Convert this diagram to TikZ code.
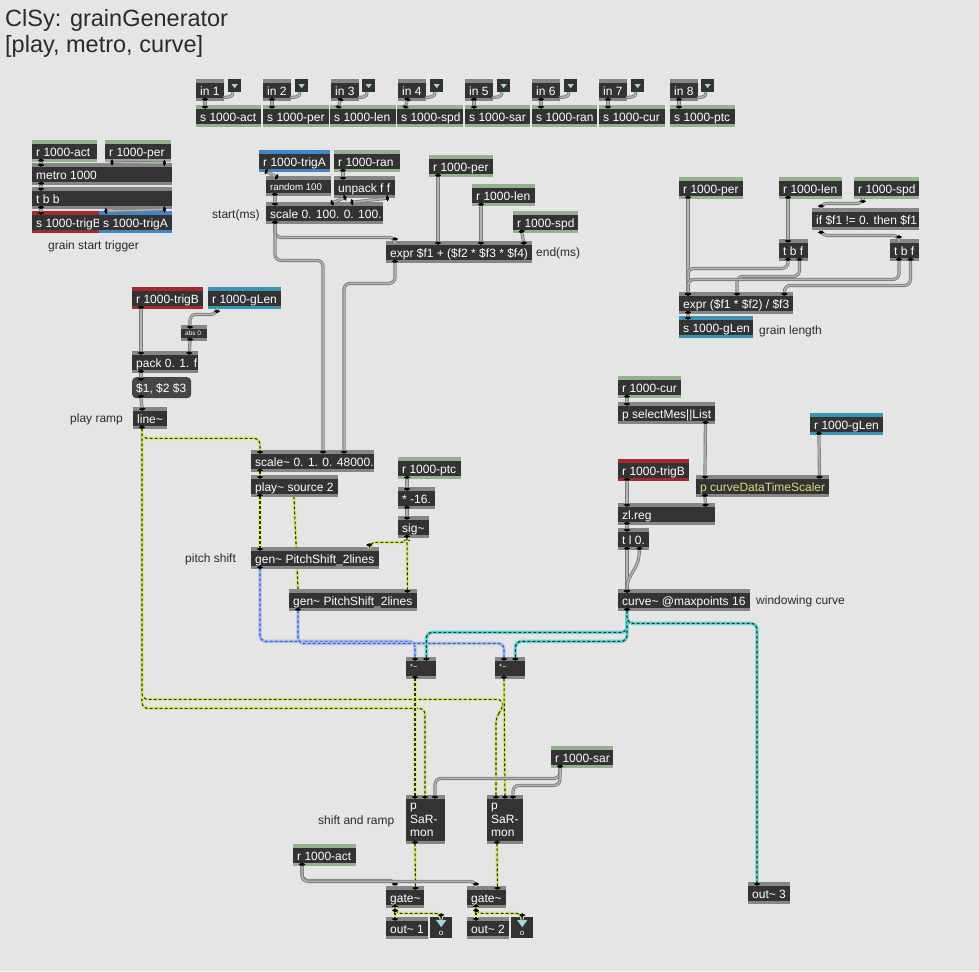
\documentclass[tikz,border=0pt]{standalone}
\usepackage{fontspec}
\setmainfont{Liberation Sans}
\usetikzlibrary{arrows.meta}
\definecolor{bgcol}{HTML}{E5E5E5}
\definecolor{bar}{HTML}{868686}
\definecolor{boxbg}{HTML}{333333}
\definecolor{sndgreen}{HTML}{93B18D}
\definecolor{trigred}{HTML}{A9282E}
\definecolor{trigblue}{HTML}{3F87C9}
\definecolor{glenblue}{HTML}{3A95B5}
\definecolor{msgbg}{HTML}{464646}
\definecolor{cmtcol}{HTML}{2A2A2A}
\definecolor{cordout}{HTML}{7A7A7A}
\definecolor{cordin}{HTML}{B3B3B3}
\definecolor{sigyel}{HTML}{D5EE80}
\definecolor{sigdash}{HTML}{2E2E2E}
\definecolor{sigcyan}{HTML}{62D6D6}
\definecolor{mclight}{HTML}{AFBDEA}
\definecolor{mcdash}{HTML}{2F5FDD}
\definecolor{tri}{HTML}{A3D4E4}
\definecolor{scalertext}{HTML}{DADA7C}
\pgfdeclarelayer{back}
\pgfsetlayers{back,main}
\newcommand{\maxfont}{\fontsize{12}{13.5}\selectfont}
\newcommand{\bx}[2]{\makebox[\dimexpr#1pt-8pt\relax][l]{#2}}
\newcommand{\sg}{\textasciitilde}

\begin{document}
\begin{tikzpicture}[x=1pt,y=-1pt,
    port/.tip={Circle[length=3pt,width=4.5pt,black]},
    obj/.style={anchor=north west,inner xsep=4pt,inner ysep=0pt,minimum height=22pt,
      fill=#1,text=white,font=\maxfont,text height=10.6pt,text depth=0pt,
      path picture={\fill[boxbg] ([yshift=-3.5pt]path picture bounding box.north west)
        rectangle ([yshift=3.5pt]path picture bounding box.south east);}},
    obj/.default=bar,
    msgbox/.style={anchor=north west,inner xsep=4pt,inner ysep=0pt,minimum height=21pt,
      fill=msgbg,rounded corners=4pt,text=white,font=\maxfont,text height=9.6pt,text depth=0pt},
    drop/.style={anchor=north west,fill=boxbg,minimum width=13pt,minimum height=13pt,inner sep=0pt,
      path picture={\fill[tri] ([xshift=-3pt,yshift=-5pt]path picture bounding box.north)
        -- ([xshift=3pt,yshift=-5pt]path picture bounding box.north)
        -- ([yshift=-9pt]path picture bounding box.north) -- cycle;}},
    ind/.style={anchor=north west,fill=boxbg,minimum width=22pt,minimum height=21pt,inner sep=0pt,
      text=white,font=\fontsize{8}{8}\selectfont,text height=15pt,text depth=0pt,
      path picture={\fill[tri] ([xshift=-5pt,yshift=-3pt]path picture bounding box.north)
        -- ([xshift=5pt,yshift=-3pt]path picture bounding box.north)
        -- ([yshift=-10pt]path picture bounding box.north) -- cycle;}},
    cmt/.style={inner sep=0pt,text=cmtcol,font=\maxfont},
    link/.style={draw=cordin,line width=1.5pt,rounded corners=6pt,
      preaction={draw=cordout,line width=3.2pt}},
    cord/.style={link,port-port,shorten <=-3.5pt,shorten >=-3.5pt},
    sig/.style={port-port,shorten <=-3.5pt,shorten >=-3.5pt,draw=sigdash,line width=1.1pt,
      dash pattern=on 3pt off 2pt,rounded corners=6pt,
      preaction={draw=#1,solid,line width=3.4pt}},
    sig/.default=sigyel]

\begin{pgfonlayer}{back}
\fill[bgcol] (0,0) rectangle (979,971);
\end{pgfonlayer}
\useasboundingbox (0,0) rectangle (979,971);

\node[cmt,anchor=base west,font=\fontsize{23.5}{26}\selectfont] (title) at (5,27) {ClSy: grainGenerator};
\node[cmt,anchor=base west,font=\fontsize{23.5}{26}\selectfont] (subtitle) at (5,53) {[play, metro, curve]};

% inlets
\node[obj] (in1) at (196,79) {\bx{28}{in 1}};
\node[drop] (dd1) at (228,79) {};
\node[obj] (in2) at (263,79) {\bx{28}{in 2}};
\node[drop] (dd2) at (295,79) {};
\node[obj] (in3) at (331,79) {\bx{28}{in 3}};
\node[drop] (dd3) at (362,79) {};
\node[obj] (in4) at (398,79) {\bx{28}{in 4}};
\node[drop] (dd4) at (430,79) {};
\node[obj] (in5) at (465,79) {\bx{28}{in 5}};
\node[drop] (dd5) at (497,79) {};
\node[obj] (in6) at (532,79) {\bx{28}{in 6}};
\node[drop] (dd6) at (564,79) {};
\node[obj] (in7) at (599,79) {\bx{28}{in 7}};
\node[drop] (dd7) at (631,79) {};
\node[obj] (in8) at (670,79) {\bx{28}{in 8}};
\node[drop] (dd8) at (701,79) {};
\node[obj=sndgreen] (sAct) at (196,105) {\bx{65}{s 1000-act}};
\node[obj=sndgreen] (sPer) at (263,105) {\bx{66}{s 1000-per}};
\node[obj=sndgreen] (sLen) at (330,105) {\bx{66}{s 1000-len}};
\node[obj=sndgreen] (sSpd) at (397,105) {\bx{66}{s 1000-spd}};
\node[obj=sndgreen] (sSar) at (465,105) {\bx{65}{s 1000-sar}};
\node[obj=sndgreen] (sRan) at (532,105) {\bx{65}{s 1000-ran}};
\node[obj=sndgreen] (sCur) at (599,105) {\bx{66}{s 1000-cur}};
\node[obj=sndgreen] (sPtc) at (670,105) {\bx{65}{s 1000-ptc}};

% grain start trigger
\node[obj=sndgreen] (rAct) at (32,140) {\bx{65}{r 1000-act}};
\node[obj=sndgreen] (rPer) at (105,140) {\bx{66}{r 1000-per}};
\node[obj] (metro) at (32,163) {\bx{140}{metro 1000}};
\node[obj] (tbb) at (32,187) {\bx{140}{t b b}};
\node[obj=trigred] (sTrigB) at (32,211) {\bx{67}{s 1000-trigB}};
\node[obj=trigblue] (sTrigA) at (99,211) {\bx{73}{s 1000-trigA}};
\node[cmt,anchor=base west] (cTrig) at (48,249) {grain start trigger};

% start and end
\node[obj=trigblue] (rTrigA) at (259,150) {\bx{71}{r 1000-trigA}};
\node[obj=sndgreen] (rRan) at (334,150) {\bx{66}{r 1000-ran}};
\node[obj,minimum height=20pt,font=\fontsize{9.7}{11}\selectfont,text height=8pt] (random) at (266,176) {\bx{65}{random 100}};
\node[obj] (unpack) at (334,176) {\bx{61}{unpack f f}};
\node[obj] (scaleA) at (266,202) {\bx{117}{scale 0. 100. 0. 100.}};
\node[cmt,anchor=base west] (cStart) at (212,218) {start(ms)};
\node[obj=sndgreen] (rPerB) at (429,155) {\bx{64}{r 1000-per}};
\node[obj=sndgreen] (rLenB) at (472,184) {\bx{63}{r 1000-len}};
\node[obj=sndgreen] (rSpdB) at (513,211) {\bx{65}{r 1000-spd}};
\node[obj] (exprA) at (386,241) {\bx{146}{expr \$f1 + (\$f2 * \$f3 * \$f4)}};
\node[cmt,anchor=base west] (cEnd) at (536,256) {end(ms)};

% grain length
\node[obj=sndgreen] (rPerC) at (679,177) {\bx{64}{r 1000-per}};
\node[obj=sndgreen] (rLenC) at (779,177) {\bx{63}{r 1000-len}};
\node[obj=sndgreen] (rSpdC) at (854,177) {\bx{65}{r 1000-spd}};
\node[obj] (iff) at (812,208) {\bx{107}{if \$f1 != 0. then \$f1}};
\node[obj] (tbfA) at (779,239) {\bx{29}{t b f}};
\node[obj] (tbfB) at (890,239) {\bx{29}{t b f}};
\node[obj] (exprB) at (679,292) {\bx{114}{expr (\$f1 * \$f2) / \$f3}};
\node[obj=glenblue] (sGLen) at (679,316) {\bx{74}{s 1000-gLen}};
\node[cmt,anchor=base west] (cGLen) at (759,334) {grain length};

% play ramp
\node[obj=trigred] (rTrigB) at (132,287) {\bx{71}{r 1000-trigB}};
\node[obj=glenblue] (rGLen) at (208,287) {\bx{73}{r 1000-gLen}};
\node[obj,minimum height=16pt,font=\fontsize{6.5}{7}\selectfont,text height=4pt] (abs) at (181,325) {\bx{26}{abs 0.}};
\node[obj] (pack) at (132,351) {\bx{66}{pack 0. 1. f}};
\node[msgbox] (msg) at (132,377) {\bx{59}{\$1, \$2 \$3}};
\node[obj] (line) at (133,407) {\bx{34}{line\sg}};
\node[cmt,anchor=base west] (cRamp) at (70,422) {play ramp};

% player and pitch shift
\node[obj] (scaleB) at (251,450) {\bx{123}{scale\sg{} 0. 1. 0. 48000.}};
\node[obj] (play) at (251,475) {\bx{87}{play\sg{} source 2}};
\node[obj=sndgreen] (rPtc) at (398,457) {\bx{63}{r 1000-ptc}};
\node[obj] (mul) at (398,487) {\bx{37}{* -16.}};
\node[obj] (sig) at (398,516) {\bx{31}{sig\sg}};
\node[obj] (genB) at (289,589) {\bx{128}{gen\sg{} PitchShift\_2lines}};
\begin{pgfonlayer}{back}
\draw[sig] ([xshift=43]play.south west) -- ([xshift=9]genB.north west);
\end{pgfonlayer}
\node[obj] (genA) at (251,547) {\bx{128}{gen\sg{} PitchShift\_2lines}};
\node[cmt,anchor=base west] (cPitch) at (185,562) {pitch shift};
\node[obj,font=\fontsize{7.5}{8}\selectfont,text height=2pt] (mulA) at (406,657) {\bx{30}{*\sg}};
\node[obj,font=\fontsize{7.5}{8}\selectfont,text height=2pt] (mulB) at (495,657) {\bx{30}{*\sg}};

% windowing curve
\node[obj=sndgreen] (rCur) at (618,376) {\bx{63}{r 1000-cur}};
\node[obj] (selMes) at (618,402) {\bx{97}{p selectMes||List}};
\node[obj=glenblue] (rGLenB) at (810,413) {\bx{73}{r 1000-gLen}};
\node[obj=trigred] (rTrigBB) at (618,459) {\bx{71}{r 1000-trigB}};
\node[obj,text=scalertext] (cdts) at (696,475) {\bx{133}{p curveDataTimeScaler}};
\node[obj] (zlreg) at (618,503) {\bx{97}{zl.reg}};
\node[obj] (tl) at (618,528) {\bx{31}{t l 0.}};
\node[obj] (curve) at (618,589) {\bx{132}{curve\sg{} @maxpoints 16}};
\node[cmt,anchor=base west] (cWin) at (756,604) {windowing curve};
\node[obj] (outC) at (748,882) {\bx{42}{out\sg{} 3}};

% shift and ramp, outputs
\node[obj=sndgreen] (rSar) at (551,746) {\bx{62}{r 1000-sar}};
\node[obj,minimum height=49pt,text height=9pt,text depth=29pt] (sarA) at (406,795) {\parbox[t]{31pt}{\raggedright p\\SaR-\\mon}};
\node[obj,minimum height=49pt,text height=9pt,text depth=29pt] (sarB) at (487,795) {\parbox[t]{28pt}{\raggedright p\\SaR-\\mon}};
\node[cmt,anchor=base west] (cShift) at (318,824) {shift and ramp};
\node[obj=sndgreen] (rActB) at (293,844) {\bx{63}{r 1000-act}};
\node[obj] (gateA) at (386,886) {\bx{38}{gate\sg}};
\node[obj] (gateB) at (467,886) {\bx{39}{gate\sg}};
\node[obj] (outA) at (386,917) {\bx{42}{out\sg{} 1}};
\node[ind] (indA) at (430,917) {o};
\node[obj] (outB) at (467,917) {\bx{42}{out\sg{} 2}};
\node[ind] (indB) at (511,917) {o};

% cords
\draw[cord] ([xshift=9]in1.south west) -- ([xshift=9]sAct.north west);
\draw[cord] ([xshift=9]in2.south west) -- ([xshift=9]sPer.north west);
\draw[cord] ([xshift=9]in3.south west) -- ([xshift=9]sLen.north west);
\draw[cord] ([xshift=9]in4.south west) -- ([xshift=9]sSpd.north west);
\draw[cord] ([xshift=9]in5.south west) -- ([xshift=9]sSar.north west);
\draw[cord] ([xshift=9]in6.south west) -- ([xshift=9]sRan.north west);
\draw[cord] ([xshift=9]in7.south west) -- ([xshift=9]sCur.north west);
\draw[cord] ([xshift=9]in8.south west) -- ([xshift=9]sPtc.north west);
\draw[link] ([xshift=5]dd1.south west) .. controls +(0,5) and +(4,0) .. ([xshift=-1,yshift=4]in1.south east);
\draw[link] ([xshift=5]dd2.south west) .. controls +(0,5) and +(4,0) .. ([xshift=-1,yshift=4]in2.south east);
\draw[link] ([xshift=5]dd3.south west) .. controls +(0,5) and +(4,0) .. ([xshift=-1,yshift=4]in3.south east);
\draw[link] ([xshift=5]dd4.south west) .. controls +(0,5) and +(4,0) .. ([xshift=-1,yshift=4]in4.south east);
\draw[link] ([xshift=5]dd5.south west) .. controls +(0,5) and +(4,0) .. ([xshift=-1,yshift=4]in5.south east);
\draw[link] ([xshift=5]dd6.south west) .. controls +(0,5) and +(4,0) .. ([xshift=-1,yshift=4]in6.south east);
\draw[link] ([xshift=5]dd7.south west) .. controls +(0,5) and +(4,0) .. ([xshift=-1,yshift=4]in7.south east);
\draw[link] ([xshift=5]dd8.south west) .. controls +(0,5) and +(4,0) .. ([xshift=-1,yshift=4]in8.south east);

\draw[cord] ([xshift=9]rAct.south west) -- ([xshift=9]metro.north west);
\draw[cord] ([xshift=9]rPer.south west) -- ([xshift=-10]metro.north east);
\draw[cord] ([xshift=9]metro.south west) -- ([xshift=9]tbb.north west);
\draw[cord] ([xshift=9]tbb.south west) -- ([xshift=9]sTrigB.north west);
\draw[cord] ([xshift=-10]tbb.south east) -- ([xshift=9]sTrigA.north west);

\draw[cord] ([xshift=9]rTrigA.south west) -- ([xshift=9]random.north west);
\draw[cord] ([xshift=9]rRan.south west) -- ([xshift=9]unpack.north west);
\draw[cord] ([xshift=9]random.south west) -- ([xshift=9]scaleA.north west);
\draw[cord] ([xshift=9]unpack.south west) -- ([xshift=68]scaleA.north west);
\draw[cord] ([xshift=-10]unpack.south east) -- ([xshift=88]scaleA.north west);
\draw[cord] ([xshift=9]scaleA.south west) -- ++(0,13) -| ([xshift=9]exprA.north west);
\draw[cord] ([xshift=9]scaleA.south west) -- ++(0,36) -| ([xshift=72]scaleB.north west);
\draw[cord] ([xshift=9]rPerB.south west) -- ([xshift=52]exprA.north west);
\draw[cord] ([xshift=9]rLenB.south west) -- ([xshift=95]exprA.north west);
\draw[cord] ([xshift=9]rSpdB.south west) -- ([xshift=-9]exprA.north east);
\draw[cord] ([xshift=9]exprA.south west) -- ++(0,20) -| ([xshift=93]scaleB.north west);

\draw[cord] ([xshift=9]rPerC.south west) -- ([xshift=9]exprB.north west);
\draw[cord] ([xshift=9]rLenC.south west) -- ([xshift=9]tbfA.north west);
\draw[cord] ([xshift=9]rSpdC.south west) -- ++(0,4) -| ([xshift=9]iff.north west);
\draw[cord] ([xshift=9]iff.south west) -- ++(0,5) -| ([xshift=9]tbfB.north west);
\draw[cord] ([xshift=9]tbfA.south west) -- ++(0,7) -| ([xshift=9]exprB.north west);
\draw[cord] ([xshift=-9]tbfA.south east) -- ++(0,15) -| ([xshift=58]exprB.north west);
\draw[cord] ([xshift=9]tbfB.south west) -- ++(0,18) -| ([xshift=9]exprB.north west);
\draw[cord] ([xshift=-9]tbfB.south east) -- ++(0,24) -| ([xshift=-9]exprB.north east);
\draw[cord] ([xshift=9]exprB.south west) -- ([xshift=9]sGLen.north west);

\draw[cord] ([xshift=9]rTrigB.south west) -- ([xshift=9]pack.north west);
\draw[cord] ([xshift=9]rGLen.south west) -- ++(0,5) -| ([xshift=9]abs.north west);
\draw[cord] ([xshift=9]abs.south west) -- ([xshift=-9]pack.north east);
\draw[cord] ([xshift=9]pack.south west) -- ([xshift=9]msg.north west);
\draw[cord] ([xshift=9]msg.south west) -- ([xshift=9]line.north west);
\draw[sig] ([xshift=9]line.south west) -- ++(0,9) -| ([xshift=9]scaleB.north west);
\draw[sig] ([xshift=9]line.south west) -- ++(0,279) -| ([xshift=19]sarA.north west);
\draw[sig] ([xshift=9]line.south west) -- ++(0,270) -- ++(361,0) -- ++(0,9) -- ++(-7,8) -- ([xshift=9]sarB.north west);

\draw[sig] ([xshift=9]scaleB.south west) -- ([xshift=9]play.north west);
\draw[sig] ([xshift=9]play.south west) -- ([xshift=9]genA.north west);
\draw[cord] ([xshift=9]rPtc.south west) -- ([xshift=9]mul.north west);
\draw[cord] ([xshift=9]mul.south west) -- ([xshift=9]sig.north west);
\draw[sig] ([xshift=9]sig.south west) -- ++(0,4) -| ([xshift=-10]genA.north east);
\draw[sig] ([xshift=9]sig.south west) -- ([xshift=-10]genB.north east);
\draw[sig=mclight,draw=mcdash] ([xshift=9]genA.south west) -- ++(0,72) -| ([xshift=9]mulA.north west);
\draw[sig=mclight,draw=mcdash] ([xshift=9]genB.south west) -- ++(0,32) -| ([xshift=9]mulB.north west);

\draw[cord] ([xshift=9]rCur.south west) -- ([xshift=9]selMes.north west);
\draw[cord] ([xshift=-10]selMes.south east) -- ([xshift=9]cdts.north west);
\draw[cord] ([xshift=9]rGLenB.south west) -- ([xshift=-10]cdts.north east);
\draw[cord] ([xshift=9]rTrigBB.south west) -- ([xshift=9]zlreg.north west);
\draw[cord] ([xshift=9]cdts.south west) -- ([xshift=-10]zlreg.north east);
\draw[cord] ([xshift=9]zlreg.south west) -- ([xshift=9]tl.north west);
\draw[cord] ([xshift=9]tl.south west) -- ([xshift=9]curve.north west);
\draw[cord] ([xshift=-10]tl.south east) .. controls +(0,22) and +(0,-18) .. ([xshift=9]curve.north west);
\draw[sig=sigcyan] ([xshift=9]curve.south west) -- ++(0,21) -| ([xshift=-10]mulA.north east);
\draw[sig=sigcyan] ([xshift=9]curve.south west) -- ++(0,30) -| ([xshift=-10]mulB.north east);
\draw[sig=sigcyan] ([xshift=9]curve.south west) -- ++(0,12) -| ([xshift=9]outC.north west);

\draw[sig] ([xshift=9]mulA.south west) -- ([xshift=9]sarA.north west);
\draw[sig] ([xshift=9]mulB.south west) -- ([xshift=18]sarB.north west);
\draw[cord] ([xshift=9]rSar.south west) -- ++(0,10) -| ([xshift=29]sarA.north west);
\draw[cord] ([xshift=9]rSar.south west) -- ++(0,17) -| ([xshift=26]sarB.north west);
\draw[sig] ([xshift=9]sarA.south west) -- ([xshift=-9]gateA.north east);
\draw[sig] ([xshift=10]sarB.south west) -- ([xshift=-9]gateB.north east);
\draw[cord] ([xshift=9]rActB.south west) -- ++(0,14) -| ([xshift=9]gateA.north west);
\draw[cord] ([xshift=9]rActB.south west) -- ++(0,15) -| ([xshift=9]gateB.north west);
\draw[sig] ([xshift=9]gateA.south west) -- ([xshift=9]outA.north west);
\draw[sig] ([xshift=9]gateA.south west) -- ++(0,5) -| (indA.north);
\draw[sig] ([xshift=9]gateB.south west) -- ([xshift=9]outB.north west);
\draw[sig] ([xshift=9]gateB.south west) -- ++(0,5) -| (indB.north);
\end{tikzpicture}
\end{document}
